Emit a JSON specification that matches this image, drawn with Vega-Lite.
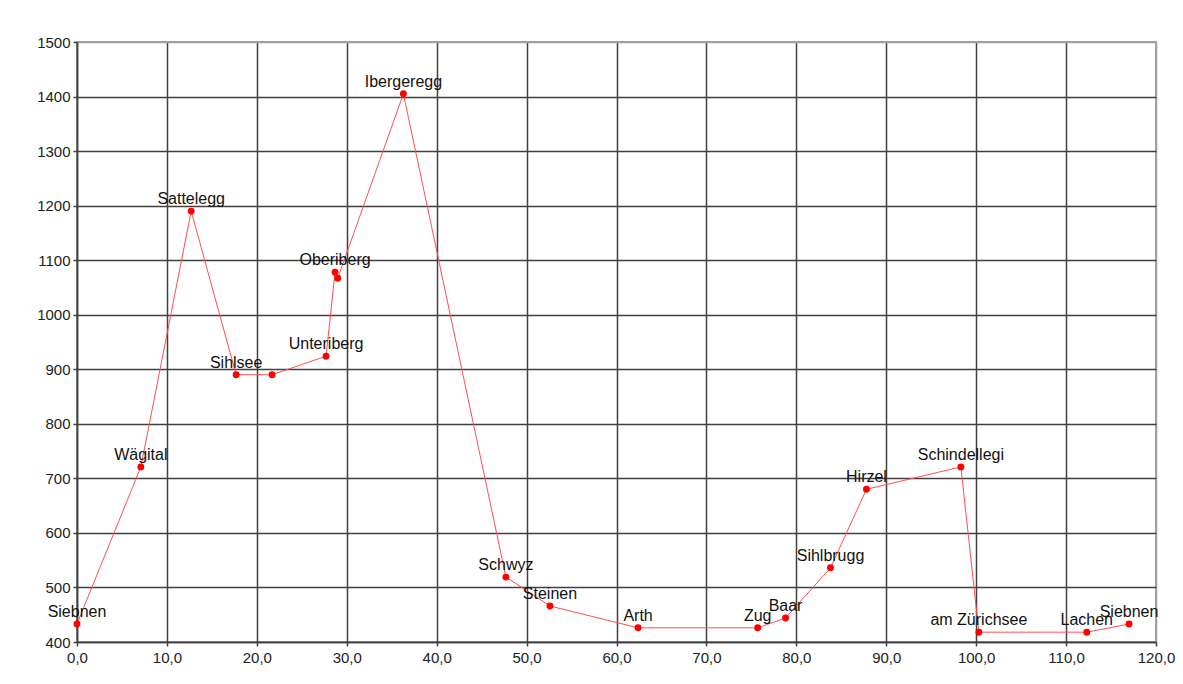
{
  "$schema": "https://vega.github.io/schema/vega-lite/v6.json",
  "width": 1079,
  "height": 600,
  "autosize": {"type": "none"},
  "padding": {"left": 77, "top": 42, "right": 27, "bottom": 42},
  "background": "white",
  "config": {
    "view": {"stroke": "#a0a0a0", "strokeWidth": 2},
    "font": "Liberation Sans"
  },
  "data": {
    "values": [
      {"km": 0.0, "hoehe": 433, "ort": "Siebnen"},
      {"km": 7.1, "hoehe": 721, "ort": "Wägital"},
      {"km": 12.7, "hoehe": 1190, "ort": "Sattelegg"},
      {"km": 17.7, "hoehe": 890, "ort": "Sihlsee"},
      {"km": 21.7, "hoehe": 890, "ort": ""},
      {"km": 27.7, "hoehe": 924, "ort": "Unteriberg"},
      {"km": 28.7, "hoehe": 1078, "ort": "Oberiberg"},
      {"km": 29.0, "hoehe": 1067, "ort": ""},
      {"km": 36.3, "hoehe": 1405, "ort": "Ibergeregg"},
      {"km": 47.7, "hoehe": 519, "ort": "Schwyz"},
      {"km": 52.6, "hoehe": 466, "ort": "Steinen"},
      {"km": 62.4, "hoehe": 426, "ort": "Arth"},
      {"km": 75.7, "hoehe": 426, "ort": "Zug"},
      {"km": 78.8, "hoehe": 444, "ort": "Baar"},
      {"km": 83.8, "hoehe": 536, "ort": "Sihlbrugg"},
      {"km": 87.8, "hoehe": 680, "ort": "Hirzel"},
      {"km": 98.3, "hoehe": 721, "ort": "Schindellegi"},
      {"km": 100.3, "hoehe": 418, "ort": "am Zürichsee"},
      {"km": 112.3, "hoehe": 418, "ort": "Lachen"},
      {"km": 117.0, "hoehe": 433, "ort": "Siebnen"}
    ]
  },
  "encoding": {
    "x": {
      "field": "km",
      "type": "quantitative",
      "scale": {"domain": [0, 120], "nice": false, "zero": false},
      "axis": {
        "title": null,
        "values": [0, 10, 20, 30, 40, 50, 60, 70, 80, 90, 100, 110, 120],
        "labelExpr": "replace(format(datum.value, '.1f'), '.', ',')",
        "labelFont": "Liberation Sans",
        "labelFontSize": 15,
        "labelColor": "#222222",
        "labelPadding": 4,
        "tickSize": 4,
        "tickColor": "#404040",
        "tickWidth": 1.5,
        "domainColor": "#404040",
        "domainWidth": 1.5,
        "grid": true,
        "gridColor": {"condition": {"test": "datum.value == 120", "value": "#a0a0a0"}, "value": "#404040"},
        "gridWidth": 1.5,
        "gridOpacity": 1,
        "labelFlush": false,
        "labelOverlap": false
      }
    },
    "y": {
      "field": "hoehe",
      "type": "quantitative",
      "scale": {"domain": [400, 1500], "nice": false, "zero": false},
      "axis": {
        "title": null,
        "values": [400, 500, 600, 700, 800, 900, 1000, 1100, 1200, 1300, 1400, 1500],
        "format": "d",
        "labelFont": "Liberation Sans",
        "labelFontSize": 15,
        "labelColor": "#222222",
        "labelPadding": 3,
        "tickSize": 4,
        "tickColor": "#404040",
        "tickWidth": 1.5,
        "domainColor": "#404040",
        "domainWidth": 1.5,
        "grid": true,
        "gridColor": {"condition": {"test": "datum.value == 1500", "value": "#a0a0a0"}, "value": "#404040"},
        "gridWidth": 1.5,
        "gridOpacity": 1,
        "labelFlush": false,
        "labelOverlap": false
      }
    }
  },
  "layer": [
    {
      "mark": {"type": "line", "color": "#ff5050", "strokeWidth": 1},
      "encoding": {"order": {"field": "km"}}
    },
    {
      "mark": {"type": "point", "filled": true, "color": "#ff0000", "size": 48, "opacity": 1}
    },
    {
      "mark": {"type": "text", "font": "Liberation Sans", "fontSize": 16, "color": "#111111", "baseline": "alphabetic", "align": "center", "dy": -7},
      "encoding": {"text": {"field": "ort"}}
    }
  ]
}
